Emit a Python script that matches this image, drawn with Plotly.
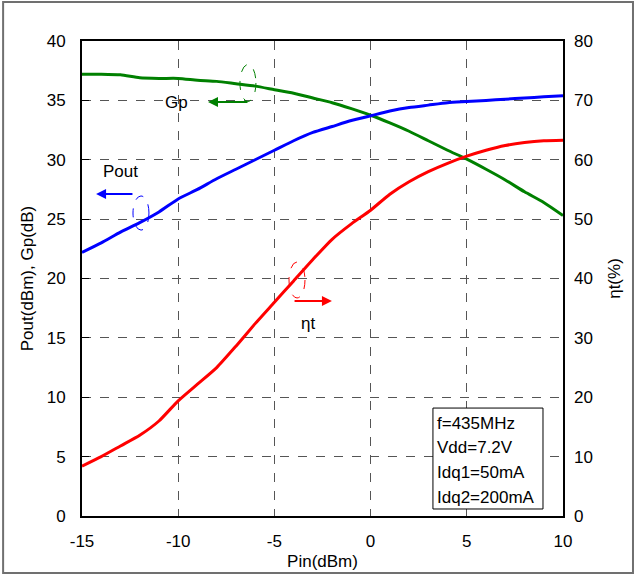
import plotly.graph_objects as go

pin = [-15, -14, -13, -12, -11, -10, -9, -8, -7, -6, -5, -4, -3, -2, -1, 0, 1, 2, 3, 4, 5, 6, 7, 8, 9, 10]
gp = [37.2, 37.2, 37.15, 36.9, 36.85, 36.85, 36.7, 36.6, 36.4, 36.2, 35.9, 35.6, 35.2, 34.8, 34.3, 33.75,
      33.1, 32.4, 31.6, 30.8, 30.05, 29.2, 28.3, 27.3, 26.4, 25.3]
pout = [22.2, 23.0, 23.9, 24.7, 25.6, 26.7, 27.5, 28.4, 29.2, 30.0, 30.8, 31.6, 32.3, 32.8, 33.3, 33.7,
        34.1, 34.4, 34.6, 34.8, 34.9, 35.0, 35.1, 35.2, 35.3, 35.4]
eta = [8.4, 10.0, 11.8, 13.6, 16.0, 19.4, 22.2, 25.0, 28.6, 32.4, 36.0, 39.6, 43.2, 46.6, 49.2, 51.5,
       54.2, 56.3, 58.0, 59.4, 60.6, 61.6, 62.4, 62.9, 63.2, 63.3]
x_ticks = [-15, -10, -5, 0, 5, 10]
left_ticks = [0, 5, 10, 15, 20, 25, 30, 35, 40]
right_ticks = [0, 10, 20, 30, 40, 50, 60, 70, 80]
info_lines = ["f=435MHz", "Vdd=7.2V", "Idq1=50mA", "Idq2=200mA"]

FONT = "Liberation Sans, Arial, sans-serif"
FS = 17

fig = go.Figure()
fig.add_trace(go.Scatter(x=pin, y=gp, mode="lines", line=dict(color="#008000", width=3, shape="spline", smoothing=0.6), name="Gp"))
fig.add_trace(go.Scatter(x=pin, y=pout, mode="lines", line=dict(color="#0000FF", width=3, shape="spline", smoothing=0.6), name="Pout"))
fig.add_trace(go.Scatter(x=pin, y=eta, mode="lines", line=dict(color="#FF0000", width=3, shape="spline", smoothing=0.6), name="eta", yaxis="y2"))

grid = dict(showgrid=True, gridcolor="#555555", griddash="dash", gridwidth=1)

fig.update_layout(
    width=636, height=576,
    margin=dict(l=82, r=73, t=41, b=60),
    paper_bgcolor="white", plot_bgcolor="white",
    showlegend=False,
    font=dict(family=FONT, size=FS, color="black"),
    xaxis=dict(range=[-15, 10], tickvals=x_ticks, ticktext=[str(v) for v in x_ticks],
               showline=True, linecolor="black", linewidth=2, mirror=True, automargin=False,
               ticks="", zeroline=False, ticklabelstandoff=9,
               title=dict(text="Pin(dBm)", standoff=5, font=dict(size=FS)), **grid),
    yaxis=dict(range=[0, 40], tickvals=left_ticks, ticktext=[str(v) for v in left_ticks],
               showline=True, linecolor="black", linewidth=2, mirror=True, automargin=False,
               ticks="inside", ticklen=7, tickcolor="black", zeroline=False, ticklabelstandoff=11,
               title=dict(text="Pout(dBm), Gp(dB)", standoff=9, font=dict(size=FS)), **grid),
    yaxis2=dict(range=[0, 80], tickvals=right_ticks, ticktext=[str(v) for v in right_ticks],
                overlaying="y", side="right", showgrid=False, zeroline=False, automargin=False,
                ticks="", ticklabelstandoff=10,
                title=dict(text="ηt(%)", standoff=16, font=dict(size=FS))),
)

# outer frame
fig.add_shape(type="rect", xref="paper", yref="paper", x0=-0.164, x1=1.1455, y0=-0.12, y1=1.082,
              line=dict(color="#707070", width=2), layer="below")

# Gp marker
fig.add_shape(type="circle", xref="x", yref="y", x0=-6.79, x1=-5.96, y0=34.91, y1=38.02,
              line=dict(color="#008000", width=1, dash="dash"))
fig.add_annotation(x=-8.45, y=34.86, ax=-6.32, ay=34.86, xref="x", yref="y", axref="x", ayref="y",
                   showarrow=True, arrowhead=2, arrowsize=1, arrowwidth=2, arrowcolor="#008000", text="")
fig.add_annotation(x=-10.1, y=34.78, xref="x", yref="y", text="Gp", showarrow=False, font=dict(size=FS))

# Pout marker
fig.add_shape(type="circle", xref="x", yref="y", x0=-12.35, x1=-11.52, y0=24.08, y1=26.95,
              line=dict(color="#0000FF", width=1, dash="dash"))
fig.add_annotation(x=-14.27, y=27.12, ax=-12.30, ay=27.12, xref="x", yref="y", axref="x", ayref="y",
                   showarrow=True, arrowhead=2, arrowsize=1, arrowwidth=2, arrowcolor="#0000FF", text="")
fig.add_annotation(x=-13.02, y=28.97, xref="x", yref="y", text="Pout", showarrow=False, font=dict(size=FS))

# eta marker
fig.add_shape(type="circle", xref="x", yref="y", x0=-4.24, x1=-3.41, y0=18.36, y1=21.39,
              line=dict(color="#FF0000", width=1, dash="dash"))
fig.add_annotation(x=-2.01, y=18.11, ax=-4.03, ay=18.11, xref="x", yref="y", axref="x", ayref="y",
                   showarrow=True, arrowhead=2, arrowsize=1, arrowwidth=2, arrowcolor="#FF0000", text="")
fig.add_annotation(x=-3.25, y=16.25, xref="x", yref="y", text="ηt", showarrow=False, font=dict(size=FS))

# info box
fig.add_shape(type="rect", xref="x", yref="y", x0=3.24, x1=8.96, y0=0.59, y1=9.09,
              line=dict(color="black", width=1), fillcolor="white", layer="above")
for i, line in enumerate(info_lines):
    fig.add_annotation(x=3.36, y=7.83 - i * 2.1, xref="x", yref="y", text=line, showarrow=False,
                       xanchor="left", font=dict(size=FS))

fig.write_html("out.html", config={"displayModeBar": False},
               post_script="document.body.style.margin='0';document.body.style.overflow='hidden';")
